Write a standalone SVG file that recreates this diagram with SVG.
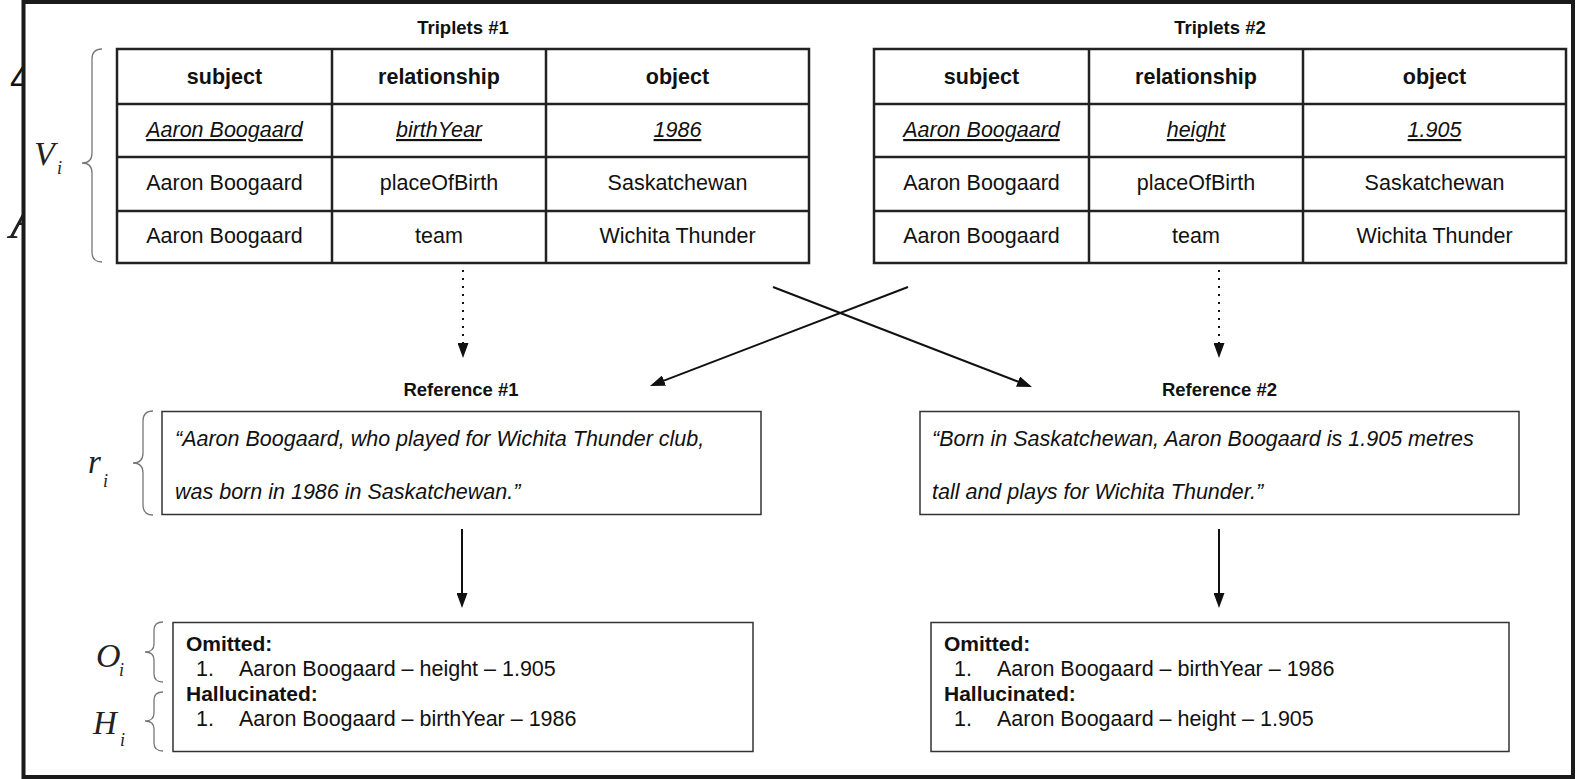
<svg xmlns="http://www.w3.org/2000/svg" width="1576" height="779" viewBox="0 0 1576 779">
  <style>
    text { font-family: "Liberation Sans", Arial, sans-serif; fill: #111; }
    .title { font-size: 18.5px; font-weight: bold; text-anchor: middle; }
    .head { font-size: 21.5px; font-weight: bold; text-anchor: middle; }
    .cell { font-size: 21.5px; text-anchor: middle; }
    .key { font-style: italic; text-decoration: underline; }
    .quote { font-size: 21.5px; font-style: italic; }
    .lbl { font-size: 21px; font-weight: bold; }
    .item { font-size: 21.5px; }
    .math { font-family: "Liberation Serif", "Times New Roman", serif; font-style: italic; fill: #222; }
    .grid { fill: none; stroke: #222; stroke-width: 2.5; }
    .box { fill: #fff; stroke: #333; stroke-width: 1.5; }
    .brace { fill: none; stroke: #777; stroke-width: 1.3; }
    .arrow { fill: none; stroke: #111; stroke-width: 2; marker-end: url(#head); }
    .dotted { stroke-dasharray: 2 6; }
  </style>
  <defs>
    <marker id="head" viewBox="0 0 15 11" refX="12" refY="5.5" markerWidth="15" markerHeight="11" markerUnits="userSpaceOnUse" orient="auto">
      <path d="M0,0 L15,5.5 L0,11 z" fill="#111"/>
    </marker>
  </defs>

  <rect x="0" y="0" width="1576" height="779" fill="#fff"/>

  <!-- glyph fragments left of the frame -->
  <g id="margin-glyphs">
    <text x="10" y="92" font-family="Liberation Serif, serif" font-size="36" fill="#111">4</text>
    <text x="10" y="238" class="math" font-size="58" fill="#555">A</text>
  </g>

  <!-- outer frame -->
  <rect id="frame" x="23.5" y="2" width="1549.5" height="775" fill="#fff" stroke="#1a1a1a" stroke-width="4"/>

  <!-- triplet table 1 -->
  <g id="triplets-1">
    <text class="title" x="463" y="34">Triplets #1</text>
    <rect class="grid" x="117" y="49" width="692" height="214"/>
    <path class="grid" d="M332,49 V263 M546,49 V263 M117,104 H809 M117,157 H809 M117,211 H809"/>
    <text class="head" x="224.5" y="84">subject</text>
    <text class="head" x="439" y="84">relationship</text>
    <text class="head" x="677.5" y="84">object</text>
    <text class="cell key" x="224.5" y="137">Aaron Boogaard</text>
    <text class="cell key" x="439" y="137">birthYear</text>
    <text class="cell key" x="677.5" y="137">1986</text>
    <text class="cell" x="224.5" y="190">Aaron Boogaard</text>
    <text class="cell" x="439" y="190">placeOfBirth</text>
    <text class="cell" x="677.5" y="190">Saskatchewan</text>
    <text class="cell" x="224.5" y="243">Aaron Boogaard</text>
    <text class="cell" x="439" y="243">team</text>
    <text class="cell" x="677.5" y="243">Wichita Thunder</text>
  </g>

  <!-- triplet table 2 -->
  <g id="triplets-2">
    <text class="title" x="1220" y="34">Triplets #2</text>
    <rect class="grid" x="874" y="49" width="692" height="214"/>
    <path class="grid" d="M1089,49 V263 M1303,49 V263 M874,104 H1566 M874,157 H1566 M874,211 H1566"/>
    <text class="head" x="981.5" y="84">subject</text>
    <text class="head" x="1196" y="84">relationship</text>
    <text class="head" x="1434.5" y="84">object</text>
    <text class="cell key" x="981.5" y="137">Aaron Boogaard</text>
    <text class="cell key" x="1196" y="137">height</text>
    <text class="cell key" x="1434.5" y="137">1.905</text>
    <text class="cell" x="981.5" y="190">Aaron Boogaard</text>
    <text class="cell" x="1196" y="190">placeOfBirth</text>
    <text class="cell" x="1434.5" y="190">Saskatchewan</text>
    <text class="cell" x="981.5" y="243">Aaron Boogaard</text>
    <text class="cell" x="1196" y="243">team</text>
    <text class="cell" x="1434.5" y="243">Wichita Thunder</text>
  </g>

  <!-- reference texts -->
  <g id="reference-1">
    <text class="title" x="461" y="396">Reference #1</text>
    <rect class="box" x="162" y="411.5" width="599" height="103"/>
    <text class="quote" x="175" y="446">“Aaron Boogaard, who played for Wichita Thunder club,</text>
    <text class="quote" x="175" y="499">was born in 1986 in Saskatchewan.”</text>
  </g>
  <g id="reference-2">
    <text class="title" x="1219.5" y="396">Reference #2</text>
    <rect class="box" x="920" y="411.5" width="599" height="103"/>
    <text class="quote" x="932" y="446">“Born in Saskatchewan, Aaron Boogaard is 1.905 metres</text>
    <text class="quote" x="932" y="499">tall and plays for Wichita Thunder.”</text>
  </g>

  <!-- omission / hallucination results -->
  <g id="result-1">
    <rect class="box" x="173" y="622.5" width="580" height="129"/>
    <text class="lbl" x="186" y="651">Omitted:</text>
    <text class="item" x="196" y="676">1.</text>
    <text class="item" x="239" y="676">Aaron Boogaard – height – 1.905</text>
    <text class="lbl" x="186" y="701">Hallucinated:</text>
    <text class="item" x="196" y="726">1.</text>
    <text class="item" x="239" y="726">Aaron Boogaard – birthYear – 1986</text>
  </g>
  <g id="result-2">
    <rect class="box" x="931" y="622.5" width="578" height="129"/>
    <text class="lbl" x="944" y="651">Omitted:</text>
    <text class="item" x="954" y="676">1.</text>
    <text class="item" x="997" y="676">Aaron Boogaard – birthYear – 1986</text>
    <text class="lbl" x="944" y="701">Hallucinated:</text>
    <text class="item" x="954" y="726">1.</text>
    <text class="item" x="997" y="726">Aaron Boogaard – height – 1.905</text>
  </g>

  <!-- set labels with braces -->
  <g id="label-V">
    <path class="brace" d="M102,49 Q92,49 92,59 L92,153 Q92,163 82,163 Q92,163 92,173 L92,252 Q92,262 102,262"/>
    <text class="math" x="34" y="165" font-size="34">V</text>
    <text class="math" x="57" y="174" font-size="18">i</text>
  </g>
  <g id="label-r">
    <path class="brace" d="M153,411 Q143,411 143,421 L143,453 Q143,463 133,463 Q143,463 143,473 L143,505 Q143,515 153,515"/>
    <text class="math" x="88" y="473" font-size="33">r</text>
    <text class="math" x="103" y="487" font-size="18">i</text>
  </g>
  <g id="label-O">
    <path class="brace" d="M163,622 Q154,622 154,630 L154,644 Q154,652 145,652 Q154,652 154,660 L154,674 Q154,682 163,682"/>
    <text class="math" x="96" y="667" font-size="34">O</text>
    <text class="math" x="119" y="676" font-size="18">i</text>
  </g>
  <g id="label-H">
    <path class="brace" d="M163,692 Q154,692 154,700 L154,713 Q154,721 145,721 Q154,721 154,729 L154,743 Q154,751 163,751"/>
    <text class="math" x="93" y="734" font-size="33">H</text>
    <text class="math" x="120" y="746" font-size="18">i</text>
  </g>

  <!-- connectors -->
  <g id="connectors">
    <line class="arrow dotted" x1="463" y1="270" x2="463" y2="355"/>
    <line class="arrow dotted" x1="1219" y1="270" x2="1219" y2="355"/>
    <line class="arrow" x1="773" y1="287" x2="1029.2" y2="385.9"/>
    <line class="arrow" x1="908" y1="287" x2="652.8" y2="384.9"/>
    <line class="arrow" x1="462" y1="529" x2="462" y2="605"/>
    <line class="arrow" x1="1219" y1="529" x2="1219" y2="605"/>
  </g>
</svg>
